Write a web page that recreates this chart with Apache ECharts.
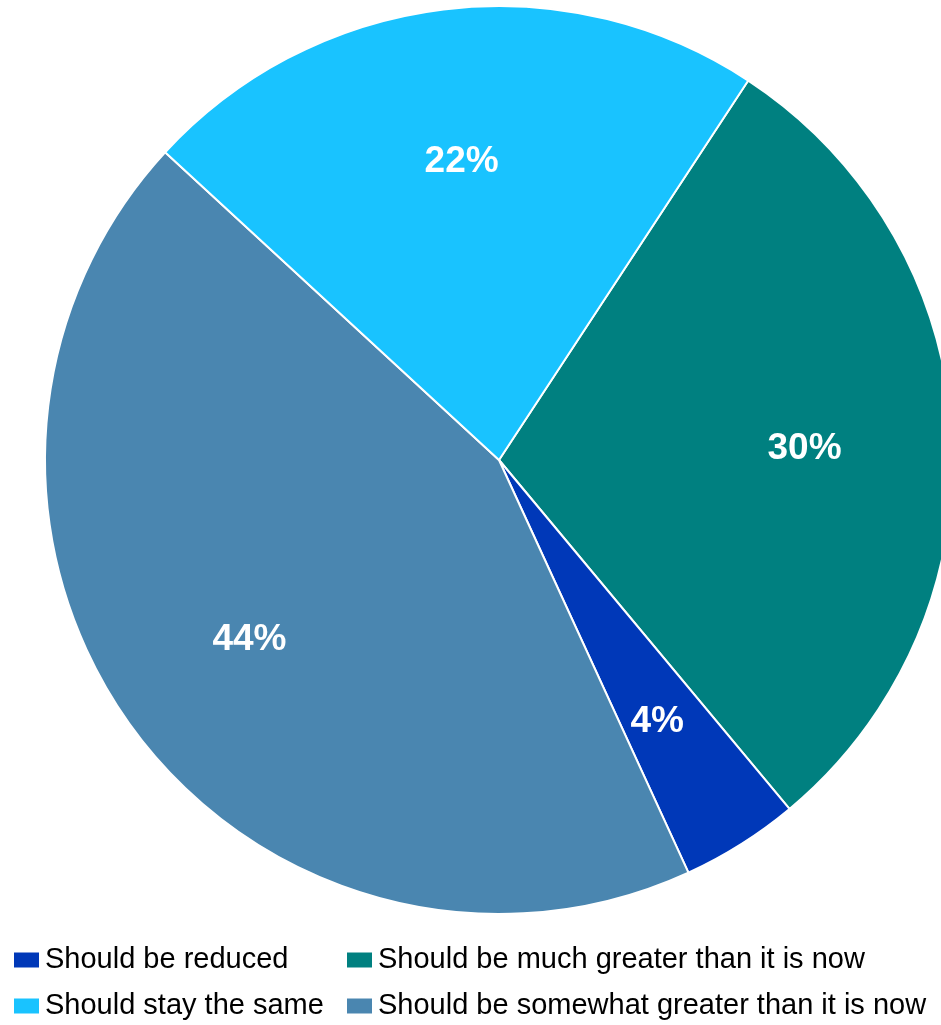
<!DOCTYPE html>
<html>
<head>
<meta charset="utf-8">
<script src="https://cdn.jsdelivr.net/npm/echarts@6/dist/echarts.min.js"></script>
<style>
html,body{margin:0;padding:0;background:#fff;}
#chart{width:941px;height:1025px;}
</style>
</head>
<body>
<div id="chart"></div>
<script>
const categories = ["Should be much greater than it is now", "Should be reduced", "Should be somewhat greater than it is now", "Should stay the same"];
const values = [29.7, 4.2, 43.7, 22.4];
const labels = ["30%", "4%", "44%", "22%"];
const colors = ["#008080", "#0038B8", "#4A86B0", "#19C3FF"];
const labelOffsets = [[0, 6], [-5, 3], [-2, 0], [0, 6]];

const data = categories.map((c, i) => ({ name: c, value: values[i], itemStyle: { color: colors[i] } }));
const labelData = categories.map((c, i) => ({ name: c, value: values[i], label: { formatter: labels[i], offset: labelOffsets[i] } }));

const chart = echarts.init(document.getElementById('chart'));
const legendText = { fontFamily: 'Liberation Sans', fontSize: 29, color: '#000', lineHeight: 30 };
chart.setOption({
  animation: false,
  legend: [
    { orient: 'vertical', left: 7, top: 940, height: 200, itemWidth: 27, itemHeight: 17, itemGap: 16, icon: 'rect',
      data: ["Should be reduced", "Should stay the same"], textStyle: legendText, selectedMode: false },
    { orient: 'vertical', left: 340, top: 940, height: 200, itemWidth: 27, itemHeight: 17, itemGap: 16, icon: 'rect',
      data: ["Should be much greater than it is now", "Should be somewhat greater than it is now"], textStyle: legendText, selectedMode: false }
  ],
  series: [
    {
      type: 'pie', center: [499, 460], radius: [0, 454], startAngle: 56.7, clockwise: true,
      data: data, label: { show: false }, labelLine: { show: false },
      itemStyle: { borderColor: '#fff', borderWidth: 2 }, silent: true
    },
    {
      type: 'pie', center: [499, 460], radius: [152, 454], startAngle: 56.7, clockwise: true,
      data: labelData, silent: true, legendHoverLink: false,
      itemStyle: { color: 'rgba(0,0,0,0)' },
      label: { show: true, position: 'inside', color: '#fff', fontFamily: 'Liberation Sans', fontWeight: 'bold', fontSize: 37 },
      labelLine: { show: false }
    }
  ]
});
</script>
</body>
</html>
